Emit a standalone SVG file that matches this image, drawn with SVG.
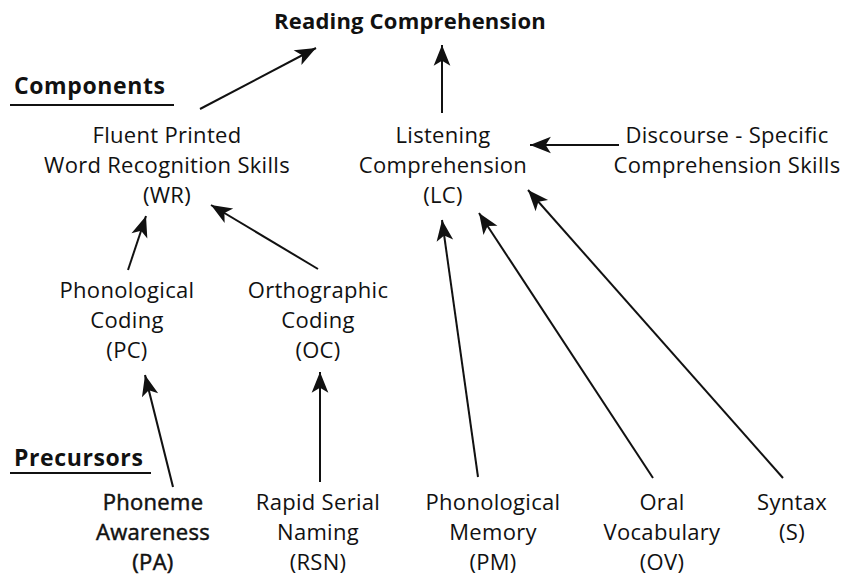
<svg xmlns="http://www.w3.org/2000/svg" width="844" height="576" viewBox="0 0 844 576">
<style>
text{font-family:"Open Sans","Liberation Sans",sans-serif;font-size:22px;letter-spacing:0.3px;fill:#111;text-anchor:middle}
.b{font-weight:bold;letter-spacing:0.2px}
.h{font-weight:bold;text-anchor:start;font-size:23px;letter-spacing:0.6px}
.pa{stroke:#111;stroke-width:0.5}
.c line{stroke:#111;stroke-width:2;marker-end:url(#ah)}
.u{stroke:#111;stroke-width:2}
</style>
<defs>
<marker id="ah" markerUnits="userSpaceOnUse" markerWidth="24" markerHeight="20" viewBox="-21 -9 23 18" refX="0" refY="0" orient="auto">
<path d="M0,0 L-20,-8 L-15,0 L-20,8 Z" fill="#111"/>
</marker>
</defs>
<rect width="844" height="576" fill="#fff"/>
<g id="labels">
<text class="h" x="14" y="94">Components</text>
<line class="u" x1="10" y1="105" x2="174" y2="105"/>
<text class="h" x="14" y="466">Precursors</text>
<line class="u" x1="10" y1="473" x2="151" y2="473"/>
</g>
<g id="RC"><text class="b" x="410" y="29">Reading Comprehension</text></g>
<g id="WR"><text x="167" y="143">Fluent Printed</text><text x="167" y="173">Word Recognition Skills</text><text x="167" y="203">(WR)</text></g>
<g id="LC"><text x="443" y="143">Listening</text><text x="443" y="173">Comprehension</text><text x="443" y="203">(LC)</text></g>
<g id="DS"><text x="727" y="143">Discourse - Specific</text><text x="727" y="173">Comprehension Skills</text></g>
<g id="PC"><text x="127" y="298">Phonological</text><text x="127" y="328">Coding</text><text x="127" y="358">(PC)</text></g>
<g id="OC"><text x="318" y="298">Orthographic</text><text x="318" y="328">Coding</text><text x="318" y="358">(OC)</text></g>
<g id="PA" class="pa"><text x="153" y="510">Phoneme</text><text x="153" y="540">Awareness</text><text x="153" y="570">(PA)</text></g>
<g id="RSN"><text x="318" y="510">Rapid Serial</text><text x="318" y="540">Naming</text><text x="318" y="570">(RSN)</text></g>
<g id="PM"><text x="493" y="510">Phonological</text><text x="493" y="540">Memory</text><text x="493" y="570">(PM)</text></g>
<g id="OV"><text x="662" y="510">Oral</text><text x="662" y="540">Vocabulary</text><text x="662" y="570">(OV)</text></g>
<g id="S"><text x="792" y="510">Syntax</text><text x="792" y="540">(S)</text></g>
<g class="c" id="connectors">
<line x1="200" y1="109" x2="316" y2="48"/>
<line x1="442" y1="113" x2="442" y2="45"/>
<line x1="619" y1="145" x2="530" y2="145"/>
<line x1="128" y1="270" x2="146" y2="216"/>
<line x1="318" y1="269" x2="211" y2="205"/>
<line x1="173" y1="487" x2="145" y2="375"/>
<line x1="320" y1="482" x2="320" y2="372"/>
<line x1="478" y1="477" x2="442" y2="220"/>
<line x1="653" y1="478" x2="479" y2="213"/>
<line x1="783" y1="478" x2="528" y2="190"/>
</g>
</svg>
